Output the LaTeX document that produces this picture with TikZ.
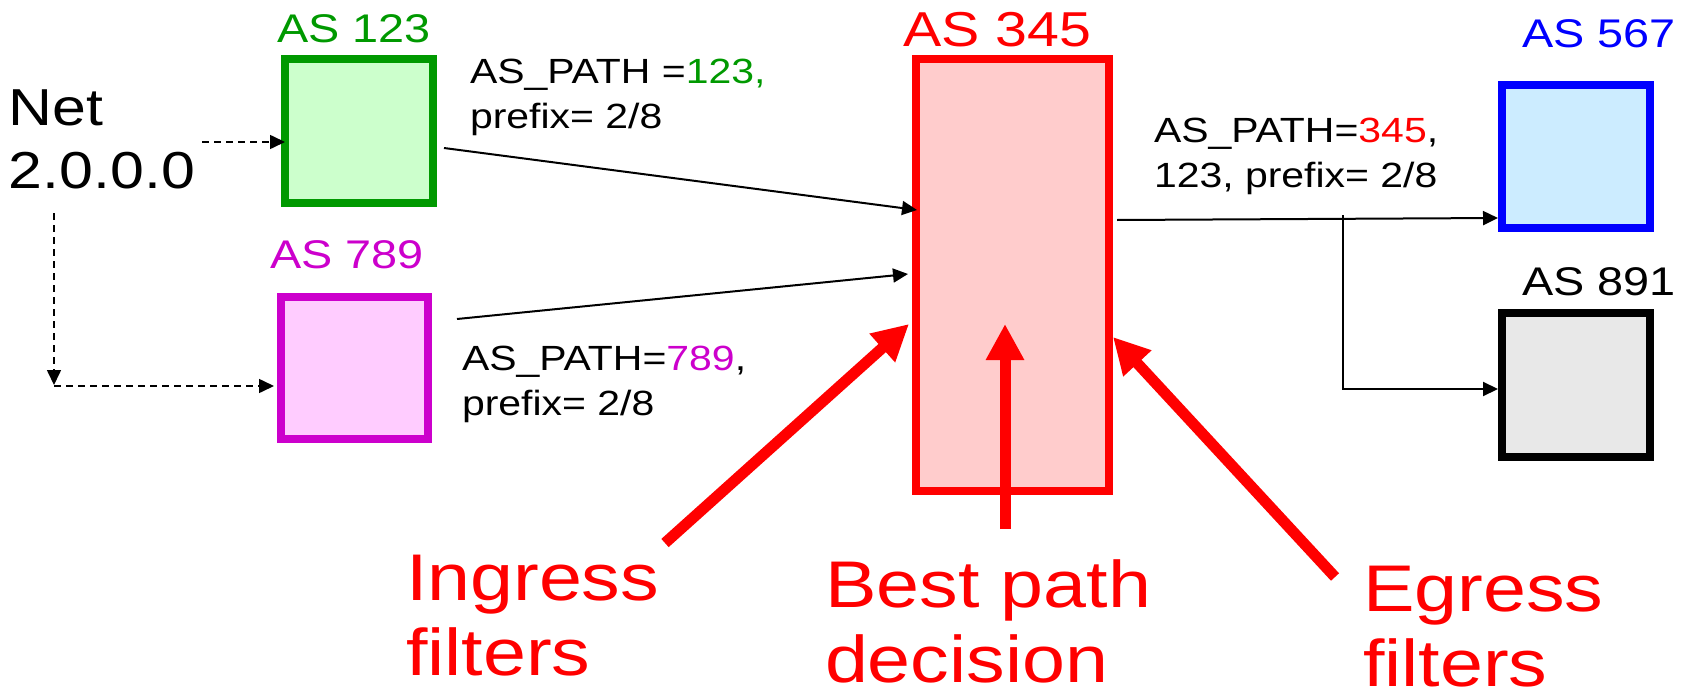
\documentclass[tikz,border=0pt]{standalone}
\usepackage{fontspec}
\setmainfont{Liberation Sans}[FakeStretch=1.17]
\usetikzlibrary{arrows.meta}

\definecolor{asgreen}{HTML}{009900}
\definecolor{asgreenfill}{HTML}{CCFFCC}
\definecolor{asmagenta}{HTML}{CC00CC}
\definecolor{asmagentafill}{HTML}{FFCCFF}
\definecolor{asred}{HTML}{FF0000}
\definecolor{asredfill}{HTML}{FFCCCC}
\definecolor{asblue}{HTML}{0000FF}
\definecolor{asbluefill}{HTML}{CCECFF}
\definecolor{asgreyfill}{HTML}{E8E8E8}

\newcommand\fNet{\fontsize{52}{63}\selectfont}
\newcommand\fAsName{\fontsize{40}{48}\selectfont}
\newcommand\fAsBig{\fontsize{49}{58}\selectfont}
\newcommand\fPathLbl{\fontsize{35}{45}\selectfont}
\newcommand\fStage{\fontsize{66}{75}\selectfont}

\begin{document}
\begin{tikzpicture}[x=1pt,y=-1pt,
  asbox/.style={rectangle, line width=8pt, inner sep=0pt, outer sep=0pt},
  lbl/.style={inner sep=0pt, outer sep=0pt, anchor=base west, align=left},
  conn/.style={line width=2pt, -{Triangle[length=15pt,width=14pt]}},
  dashconn/.style={line width=1.6pt, dash pattern=on 7pt off 5pt,
                   -{Triangle[length=15pt,width=14pt]}},
  stagearrow/.style={draw=asred, line width=11pt,
                     -{Triangle[length=36pt,width=36pt]}}]
\useasboundingbox (0,0) rectangle (1686,693);

% autonomous systems
\node[asbox, draw=asgreen, fill=asgreenfill,
      minimum width=148pt, minimum height=144pt] (as123) at (359,131) {};
\node[asbox, draw=asmagenta, fill=asmagentafill,
      minimum width=147pt, minimum height=142pt] (as789) at (354.5,368) {};
\node[asbox, draw=asred, fill=asredfill,
      minimum width=193pt, minimum height=432pt] (as345) at (1012.5,275) {};
\node[asbox, draw=asblue, fill=asbluefill,
      minimum width=148pt, minimum height=143pt] (as567) at (1576,156.5) {};
\node[asbox, draw=black, fill=asgreyfill,
      minimum width=148pt, minimum height=144pt] (as891) at (1576,385) {};

% AS names
\node[lbl, font=\fAsName, text=asgreen] (n123) at (277,43) {AS 123};
\node[lbl, font=\fAsName, text=asmagenta] (n789) at (270,268) {AS 789};
\node[lbl, font=\fAsBig, text=asred] (n345) at (903,47) {AS 345};
\node[lbl, font=\fAsName, text=asblue] (n567) at (1522,48) {AS 567};
\node[lbl, font=\fAsName] (n891) at (1522,295) {AS 891};

% origin network (multi-line labels are placed by their last baseline)
\node[lbl, font=\fNet] (net) at (9,188) {Net\\2.0.0.0};

% route announcements
\node[lbl, font=\fPathLbl] (p123) at (470,128)
  {AS\_PATH =\textcolor{asgreen}{123,}\\prefix= 2/8};
\node[lbl, font=\fPathLbl] (p789) at (462,415)
  {AS\_PATH=\textcolor{asmagenta}{789},\\prefix= 2/8};
\node[lbl, font=\fPathLbl] (p345) at (1154,187)
  {AS\_PATH=\textcolor{asred}{345},\\123, prefix= 2/8};

% processing stages
\node[lbl, font=\fStage, text=asred] (ingress) at (406,675) {Ingress\\filters};
\node[lbl, font=\fStage, text=asred] (best) at (825,682) {Best path\\decision};
\node[lbl, font=\fStage, text=asred] (egress) at (1363,686) {Egress\\filters};

% origination of the prefix
\coordinate (netout) at (202,142);
\coordinate (netdown) at (54,213);
\coordinate (corner) at (54,385);
\draw[dashconn] (netout) -- ([shift={(0,11)}]as123.west);
\draw[dashconn] (netdown) -- (corner);
\draw[dashconn] ([shift={(0,1)}]corner) -- ([shift={(-7,18)}]as789.west);

% announcements between systems
\draw[conn] ([shift={(11,17)}]as123.east) -- ([shift={(1,-65)}]as345.west);
\draw[conn] ([shift={(29,-49)}]as789.east) -- ([shift={(-8,-1)}]as345.west);
\draw[conn] ([shift={(8,-55)}]as345.east) -- ([shift={(-4,61.5)}]as567.west);
\coordinate (branch) at (1343,215);
\draw[conn] (branch) |- ([shift={(-4,4)}]as891.west);

% stage pointers
\coordinate (ingtail) at (665,543);
\coordinate (besttail) at (1005,529);
\coordinate (egrtail) at (1335,577);
\draw[stagearrow] (ingtail) -- ([shift={(-7,49)}]as345.west);
\draw[stagearrow] (besttail) -- ([shift={(-7.5,49)}]as345.center);
\draw[stagearrow] (egrtail) -- ([shift={(4,62)}]as345.east);
\end{tikzpicture}
\end{document}
